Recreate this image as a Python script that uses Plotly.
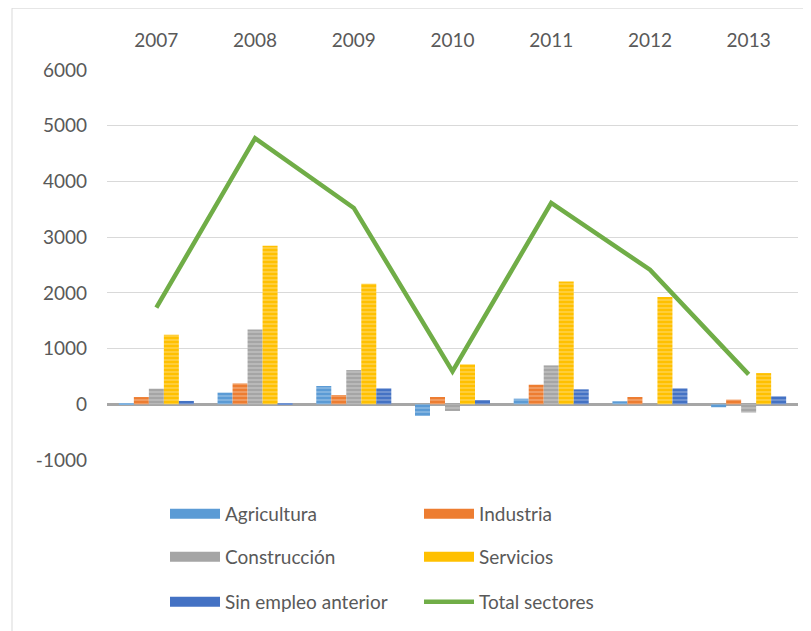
import plotly.graph_objects as go

years = ["2007", "2008", "2009", "2010", "2011", "2012", "2013"]
agricultura = [10, 210, 328, -209, 101, 54, -54]
industria = [130, 375, 167, 131, 352, 131, 84]
construccion = [280, 1342, 614, -120, 698, 0, -149]
servicios = [1250, 2845, 2165, 716, 2206, 1927, 560]
sin_empleo = [60, 10, 286, 77, 268, 286, 143]
total = [1735, 4775, 3524, 590, 3614, 2415, 537]
y_ticks = [-1000, 0, 1000, 2000, 3000, 4000, 5000, 6000]
y_tick_labels = ["-1000", "0", "1000", "2000", "3000", "4000", "5000", "6000"]

series = [
    ("Agricultura", agricultura, "#5B9BD5", "legend"),
    ("Industria", industria, "#ED7D31", "legend"),
    ("Construcción", construccion, "#A5A5A5", "legend2"),
    ("Servicios", servicios, "#FFC000", "legend2"),
    ("Sin empleo anterior", sin_empleo, "#4472C4", "legend3"),
]

FONT = "Lato, 'Open Sans', sans-serif"
TXT = "#595959"

fig = go.Figure()
for name, vals, col, leg in series:
    fig.add_trace(go.Bar(
        x=years, y=vals, name=name, marker_color=col,
        marker_line_width=0,
        marker_pattern=dict(shape="-", fillmode="overlay", fgcolor="white",
                            fgopacity=0.45, size=4, solidity=0.25),
        legendgroup=name, showlegend=False,
    ))
    # legend entry (wide swatch like the original)
    fig.add_trace(go.Scatter(
        x=[None], y=[None], mode="lines", name=name,
        line=dict(color=col, width=12), legendgroup=name, legend=leg,
        hoverinfo="skip",
    ))

fig.add_trace(go.Scatter(
    x=years, y=total, name="Total sectores", mode="lines",
    line=dict(color="#70AD47", width=4.5), legend="legend3",
))

leg_common = dict(orientation="h", xanchor="left", yanchor="middle",
                  font=dict(family=FONT, size=19, color=TXT),
                  itemwidth=50, entrywidth=189, bgcolor="rgba(0,0,0,0)",
                  itemclick=False, itemdoubleclick=False)

# page body has an 8px margin, so figure coords = screen coords - 8
W, H = 803, 623
L, R, T, B = 99, 13, 62, 170
pw, ph = W - L - R, H - T - B


def px_x(px):
    return (px - L) / pw


def px_y(py):
    return 1 - (py - T) / ph


fig.update_layout(
    width=W, height=H,
    margin=dict(l=L, r=R, t=T, b=B),
    paper_bgcolor="white", plot_bgcolor="white",
    barmode="group", bargap=0.24, bargroupgap=0,
    font=dict(family=FONT, size=19, color=TXT),
    legend=dict(x=px_x(157), y=px_y(506), **leg_common),
    legend2=dict(x=px_x(157), y=px_y(549), **leg_common),
    legend3=dict(x=px_x(157), y=px_y(594), **leg_common),
    xaxis=dict(type="category", side="top", showgrid=False, showline=False,
               zeroline=False, ticks="", ticklabelstandoff=18,
               tickfont=dict(family=FONT, size=19, color=TXT)),
    yaxis=dict(range=[-1000, 6000], tickvals=y_ticks, ticktext=y_tick_labels,
               showgrid=True, gridcolor="#D9D9D9", gridwidth=1,
               zeroline=True, zerolinecolor="#A6A6A6", zerolinewidth=2.5,
               showline=False, ticks="", ticklabelstandoff=19,
               tickfont=dict(family=FONT, size=19, color=TXT)),
    shapes=[dict(type="rect", xref="paper", yref="paper",
                 x0=px_x(4), x1=px_x(830), y0=px_y(650), y1=px_y(0),
                 line=dict(color="#D9D9D9", width=1), layer="below")],
    hovermode="x",
)

fig.write_html("out.html")
